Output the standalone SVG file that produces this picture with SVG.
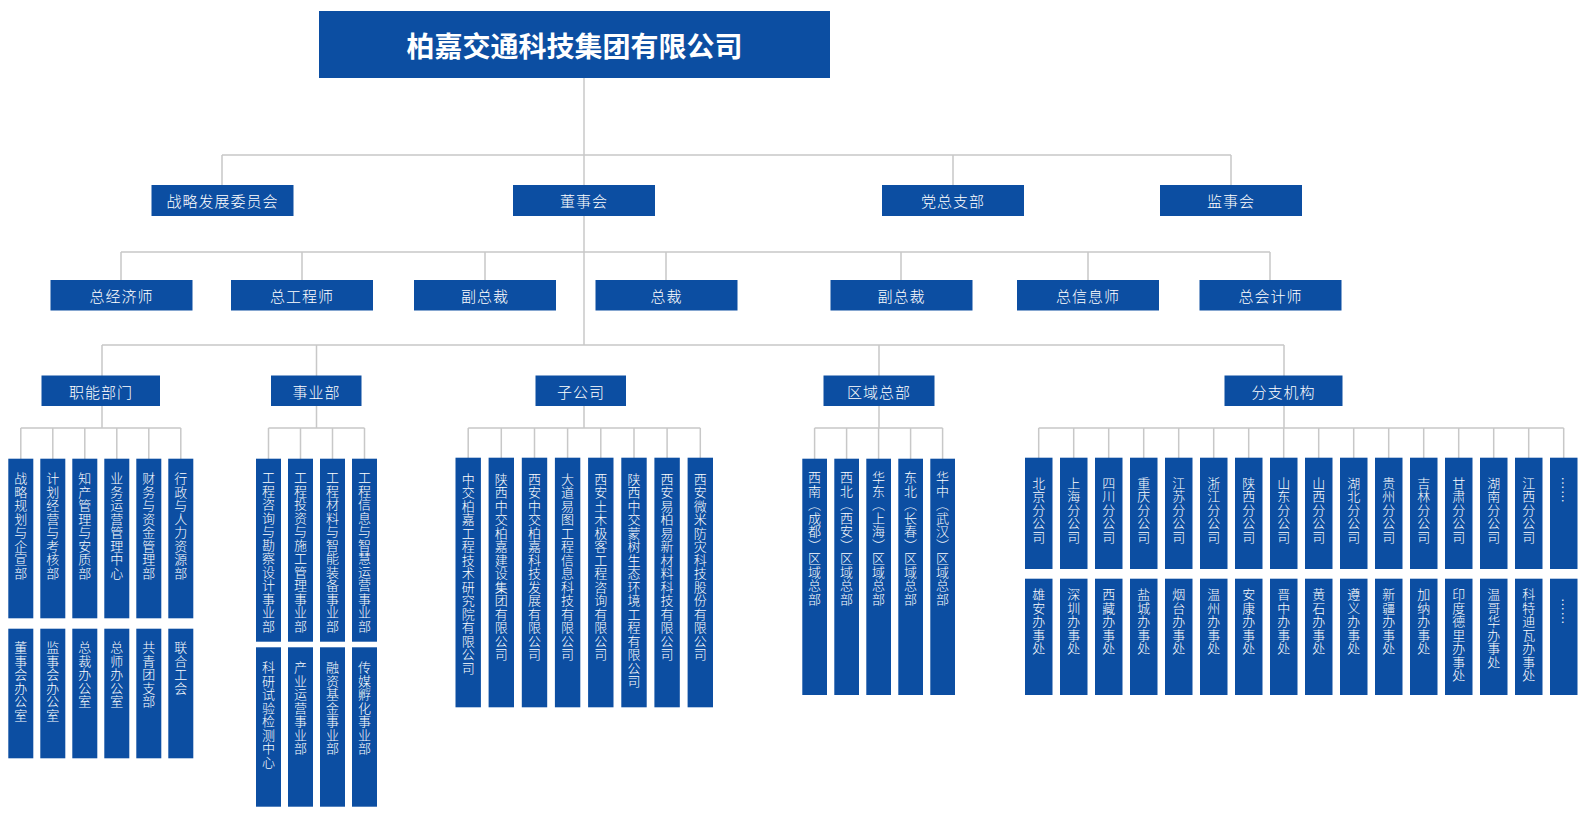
<svg xmlns="http://www.w3.org/2000/svg" width="1587" height="822" viewBox="0 0 1587 822">
<style>
.b{fill:#0c4ea2}
.ln{stroke:#c8c8c8;stroke-width:1.5;fill:none}
text{fill:#fff;font-family:"Noto Sans CJK SC","Noto Sans",sans-serif}
.t{font-size:28px;font-weight:700;text-anchor:middle;dominant-baseline:central}
.m{font-size:15px;letter-spacing:1px;text-anchor:middle;dominant-baseline:central;font-weight:300}
.v{font-size:13px;letter-spacing:0.5px;writing-mode:vertical-rl;font-weight:300}
</style>
<rect width="1587" height="822" fill="#fff"/>
<g id="connectors" class="ln">
<path d="M584 78V345"/>
<path d="M222 155H1231M222 155V185M953 155V185M1231 155V185"/>
<path d="M121 252H1270M121 252V280M302 252V280M485 252V280M666 252V280M901 252V280M1088 252V280M1270 252V280"/>
<path d="M102 345H1284M102 345V376M316.5 345V376M879 345V376M1284 345V376"/>
<path d="M102 406V428M20.8 428H180.8M20.8 428V459M52.8 428V459M84.8 428V459M116.8 428V459M148.8 428V459M180.8 428V459"/>
<path d="M316.5 406V428M268.5 428H364.5M268.5 428V459M300.5 428V459M332.5 428V459M364.5 428V459"/>
<path d="M584 406V428M468.2 428H700.3M468.2 428V458M501.3 428V458M534.5 428V458M567.6 428V458M600.8 428V458M634 428V458M667.1 428V458M700.3 428V458"/>
<path d="M879 406V428M814.6 428H942.6M814.6 428V459M846.6 428V459M878.6 428V459M910.6 428V459M942.6 428V459"/>
<path d="M1284 406V428M1038.7 428H1563.7M1038.7 428V458M1073.7 428V458M1108.7 428V458M1143.7 428V458M1178.7 428V458M1213.7 428V458M1248.7 428V458M1283.7 428V458M1318.7 428V458M1353.7 428V458M1388.7 428V458M1423.7 428V458M1458.7 428V458M1493.7 428V458M1528.7 428V458M1563.7 428V458"/>
</g>
<g id="root"><rect class="b" x="319" y="11" width="511" height="67"/><text class="t" x="574.5" y="45">柏嘉交通科技集团有限公司</text></g>
<g id="l1-zhanlue"><rect class="b" x="151.5" y="185" width="142" height="31"/><text class="m" x="222.5" y="200.5">战略发展委员会</text></g>
<g id="l1-dongshihui"><rect class="b" x="513" y="185" width="142" height="31"/><text class="m" x="584" y="200.5">董事会</text></g>
<g id="l1-dangzongzhibu"><rect class="b" x="882" y="185" width="142" height="31"/><text class="m" x="953" y="200.5">党总支部</text></g>
<g id="l1-jianshihui"><rect class="b" x="1160" y="185" width="142" height="31"/><text class="m" x="1231" y="200.5">监事会</text></g>
<g id="l2-zongjingjishi"><rect class="b" x="50.5" y="280" width="142" height="30.5"/><text class="m" x="121.5" y="295">总经济师</text></g>
<g id="l2-zonggongchengshi"><rect class="b" x="231" y="280" width="142" height="30.5"/><text class="m" x="302" y="295">总工程师</text></g>
<g id="l2-fuzongcai1"><rect class="b" x="414" y="280" width="142" height="30.5"/><text class="m" x="485" y="295">副总裁</text></g>
<g id="l2-zongcai"><rect class="b" x="595.5" y="280" width="142" height="30.5"/><text class="m" x="666.5" y="295">总裁</text></g>
<g id="l2-fuzongcai2"><rect class="b" x="830.5" y="280" width="142" height="30.5"/><text class="m" x="901.5" y="295">副总裁</text></g>
<g id="l2-zongxinxishi"><rect class="b" x="1017" y="280" width="142" height="30.5"/><text class="m" x="1088" y="295">总信息师</text></g>
<g id="l2-zongkuaijishi"><rect class="b" x="1199.5" y="280" width="142" height="30.5"/><text class="m" x="1270.5" y="295">总会计师</text></g>
<g id="l3-zhineng"><rect class="b" x="41.5" y="375.5" width="118.5" height="30.5"/><text class="m" x="101" y="391">职能部门</text></g>
<g id="l3-shiyebu"><rect class="b" x="271" y="375.5" width="90.5" height="30.5"/><text class="m" x="316.5" y="391">事业部</text></g>
<g id="l3-zigongsi"><rect class="b" x="535.5" y="375.5" width="90.5" height="30.5"/><text class="m" x="581" y="391">子公司</text></g>
<g id="l3-quyu"><rect class="b" x="823.5" y="375.5" width="111" height="30.5"/><text class="m" x="879" y="391">区域总部</text></g>
<g id="l3-fenzhi"><rect class="b" x="1224.5" y="375.5" width="118" height="30.5"/><text class="m" x="1283.5" y="391">分支机构</text></g>
<g id="zn-1"><rect class="b" x="8.3" y="458.7" width="25" height="159.6"/><text class="v" x="20.8" y="472">战略规划与企宣部</text></g>
<g id="zn-2"><rect class="b" x="40.3" y="458.7" width="25" height="159.6"/><text class="v" x="52.8" y="472">计划经营与考核部</text></g>
<g id="zn-3"><rect class="b" x="72.3" y="458.7" width="25" height="159.6"/><text class="v" x="84.8" y="472">知产管理与安质部</text></g>
<g id="zn-4"><rect class="b" x="104.3" y="458.7" width="25" height="159.6"/><text class="v" x="116.8" y="472">业务运营管理中心</text></g>
<g id="zn-5"><rect class="b" x="136.3" y="458.7" width="25" height="159.6"/><text class="v" x="148.8" y="472">财务与资金管理部</text></g>
<g id="zn-6"><rect class="b" x="168.3" y="458.7" width="25" height="159.6"/><text class="v" x="180.8" y="472">行政与人力资源部</text></g>
<g id="zn-7"><rect class="b" x="8.3" y="628.7" width="25" height="129.6"/><text class="v" x="20.8" y="641">董事会办公室</text></g>
<g id="zn-8"><rect class="b" x="40.3" y="628.7" width="25" height="129.6"/><text class="v" x="52.8" y="641">监事会办公室</text></g>
<g id="zn-9"><rect class="b" x="72.3" y="628.7" width="25" height="129.6"/><text class="v" x="84.8" y="641">总裁办公室</text></g>
<g id="zn-10"><rect class="b" x="104.3" y="628.7" width="25" height="129.6"/><text class="v" x="116.8" y="641">总师办公室</text></g>
<g id="zn-11"><rect class="b" x="136.3" y="628.7" width="25" height="129.6"/><text class="v" x="148.8" y="641">共青团支部</text></g>
<g id="zn-12"><rect class="b" x="168.3" y="628.7" width="25" height="129.6"/><text class="v" x="180.8" y="641">联合工会</text></g>
<g id="sy-1"><rect class="b" x="256" y="458.7" width="25" height="183"/><text class="v" x="268.5" y="471">工程咨询与勘察设计事业部</text></g>
<g id="sy-2"><rect class="b" x="288" y="458.7" width="25" height="183"/><text class="v" x="300.5" y="471">工程投资与施工管理事业部</text></g>
<g id="sy-3"><rect class="b" x="320" y="458.7" width="25" height="183"/><text class="v" x="332.5" y="471">工程材料与智能装备事业部</text></g>
<g id="sy-4"><rect class="b" x="352" y="458.7" width="25" height="183"/><text class="v" x="364.5" y="471">工程信息与智慧运营事业部</text></g>
<g id="sy-5"><rect class="b" x="256" y="647.3" width="25" height="159.4"/><text class="v" x="268.5" y="661">科研试验检测中心</text></g>
<g id="sy-6"><rect class="b" x="288" y="647.3" width="25" height="159.4"/><text class="v" x="300.5" y="661">产业运营事业部</text></g>
<g id="sy-7"><rect class="b" x="320" y="647.3" width="25" height="159.4"/><text class="v" x="332.5" y="661">融资基金事业部</text></g>
<g id="sy-8"><rect class="b" x="352" y="647.3" width="25" height="159.4"/><text class="v" x="364.5" y="661">传媒孵化事业部</text></g>
<g id="zg-1"><rect class="b" x="455.5" y="457.7" width="25.4" height="249.6"/><text class="v" x="468.2" y="472.5">中交柏嘉工程技术研究院有限公司</text></g>
<g id="zg-2"><rect class="b" x="488.6" y="457.7" width="25.4" height="249.6"/><text class="v" x="501.3" y="472.5">陕西中交柏嘉建设集团有限公司</text></g>
<g id="zg-3"><rect class="b" x="521.8" y="457.7" width="25.4" height="249.6"/><text class="v" x="534.5" y="472.5">西安中交柏嘉科技发展有限公司</text></g>
<g id="zg-4"><rect class="b" x="554.9" y="457.7" width="25.4" height="249.6"/><text class="v" x="567.6" y="472.5">大道易图工程信息科技有限公司</text></g>
<g id="zg-5"><rect class="b" x="588.1" y="457.7" width="25.4" height="249.6"/><text class="v" x="600.8" y="472.5">西安土木极客工程咨询有限公司</text></g>
<g id="zg-6"><rect class="b" x="621.3" y="457.7" width="25.4" height="249.6"/><text class="v" x="634" y="472.5">陕西中交蒙树生态环境工程有限公司</text></g>
<g id="zg-7"><rect class="b" x="654.4" y="457.7" width="25.4" height="249.6"/><text class="v" x="667.1" y="472.5">西安易柏易新材料科技有限公司</text></g>
<g id="zg-8"><rect class="b" x="687.6" y="457.7" width="25.4" height="249.6"/><text class="v" x="700.3" y="472.5">西安微米防灾科技股份有限公司</text></g>
<g id="qy-1"><rect class="b" x="802.3" y="458.7" width="24.7" height="236.3"/><text class="v" x="814.6" y="471">西南（成都）区域总部</text></g>
<g id="qy-2"><rect class="b" x="834.3" y="458.7" width="24.7" height="236.3"/><text class="v" x="846.6" y="471">西北（西安）区域总部</text></g>
<g id="qy-3"><rect class="b" x="866.3" y="458.7" width="24.7" height="236.3"/><text class="v" x="878.6" y="471">华东（上海）区域总部</text></g>
<g id="qy-4"><rect class="b" x="898.3" y="458.7" width="24.7" height="236.3"/><text class="v" x="910.6" y="471">东北（长春）区域总部</text></g>
<g id="qy-5"><rect class="b" x="930.3" y="458.7" width="24.7" height="236.3"/><text class="v" x="942.6" y="471">华中（武汉）区域总部</text></g>
<g id="fz-1"><rect class="b" x="1025" y="457.7" width="27.5" height="111.3"/><text class="v" x="1038.7" y="476.5">北京分公司</text></g>
<g id="fz-2"><rect class="b" x="1060" y="457.7" width="27.5" height="111.3"/><text class="v" x="1073.7" y="476.5">上海分公司</text></g>
<g id="fz-3"><rect class="b" x="1095" y="457.7" width="27.5" height="111.3"/><text class="v" x="1108.7" y="476.5">四川分公司</text></g>
<g id="fz-4"><rect class="b" x="1130" y="457.7" width="27.5" height="111.3"/><text class="v" x="1143.7" y="476.5">重庆分公司</text></g>
<g id="fz-5"><rect class="b" x="1165" y="457.7" width="27.5" height="111.3"/><text class="v" x="1178.7" y="476.5">江苏分公司</text></g>
<g id="fz-6"><rect class="b" x="1200" y="457.7" width="27.5" height="111.3"/><text class="v" x="1213.7" y="476.5">浙江分公司</text></g>
<g id="fz-7"><rect class="b" x="1235" y="457.7" width="27.5" height="111.3"/><text class="v" x="1248.7" y="476.5">陕西分公司</text></g>
<g id="fz-8"><rect class="b" x="1270" y="457.7" width="27.5" height="111.3"/><text class="v" x="1283.7" y="476.5">山东分公司</text></g>
<g id="fz-9"><rect class="b" x="1305" y="457.7" width="27.5" height="111.3"/><text class="v" x="1318.7" y="476.5">山西分公司</text></g>
<g id="fz-10"><rect class="b" x="1340" y="457.7" width="27.5" height="111.3"/><text class="v" x="1353.7" y="476.5">湖北分公司</text></g>
<g id="fz-11"><rect class="b" x="1375" y="457.7" width="27.5" height="111.3"/><text class="v" x="1388.7" y="476.5">贵州分公司</text></g>
<g id="fz-12"><rect class="b" x="1410" y="457.7" width="27.5" height="111.3"/><text class="v" x="1423.7" y="476.5">吉林分公司</text></g>
<g id="fz-13"><rect class="b" x="1445" y="457.7" width="27.5" height="111.3"/><text class="v" x="1458.7" y="476.5">甘肃分公司</text></g>
<g id="fz-14"><rect class="b" x="1480" y="457.7" width="27.5" height="111.3"/><text class="v" x="1493.7" y="476.5">湖南分公司</text></g>
<g id="fz-15"><rect class="b" x="1515" y="457.7" width="27.5" height="111.3"/><text class="v" x="1528.7" y="476.5">江西分公司</text></g>
<g id="fz-16"><rect class="b" x="1550" y="457.7" width="27.5" height="111.3"/><text class="v" x="1563.7" y="476.5">……</text></g>
<g id="bs-1"><rect class="b" x="1025" y="578.7" width="27.5" height="116.3"/><text class="v" x="1038.7" y="588">雄安办事处</text></g>
<g id="bs-2"><rect class="b" x="1060" y="578.7" width="27.5" height="116.3"/><text class="v" x="1073.7" y="588">深圳办事处</text></g>
<g id="bs-3"><rect class="b" x="1095" y="578.7" width="27.5" height="116.3"/><text class="v" x="1108.7" y="588">西藏办事处</text></g>
<g id="bs-4"><rect class="b" x="1130" y="578.7" width="27.5" height="116.3"/><text class="v" x="1143.7" y="588">盐城办事处</text></g>
<g id="bs-5"><rect class="b" x="1165" y="578.7" width="27.5" height="116.3"/><text class="v" x="1178.7" y="588">烟台办事处</text></g>
<g id="bs-6"><rect class="b" x="1200" y="578.7" width="27.5" height="116.3"/><text class="v" x="1213.7" y="588">温州办事处</text></g>
<g id="bs-7"><rect class="b" x="1235" y="578.7" width="27.5" height="116.3"/><text class="v" x="1248.7" y="588">安康办事处</text></g>
<g id="bs-8"><rect class="b" x="1270" y="578.7" width="27.5" height="116.3"/><text class="v" x="1283.7" y="588">晋中办事处</text></g>
<g id="bs-9"><rect class="b" x="1305" y="578.7" width="27.5" height="116.3"/><text class="v" x="1318.7" y="588">黄石办事处</text></g>
<g id="bs-10"><rect class="b" x="1340" y="578.7" width="27.5" height="116.3"/><text class="v" x="1353.7" y="588">遵义办事处</text></g>
<g id="bs-11"><rect class="b" x="1375" y="578.7" width="27.5" height="116.3"/><text class="v" x="1388.7" y="588">新疆办事处</text></g>
<g id="bs-12"><rect class="b" x="1410" y="578.7" width="27.5" height="116.3"/><text class="v" x="1423.7" y="588">加纳办事处</text></g>
<g id="bs-13"><rect class="b" x="1445" y="578.7" width="27.5" height="116.3"/><text class="v" x="1458.7" y="588">印度德里办事处</text></g>
<g id="bs-14"><rect class="b" x="1480" y="578.7" width="27.5" height="116.3"/><text class="v" x="1493.7" y="588">温哥华办事处</text></g>
<g id="bs-15"><rect class="b" x="1515" y="578.7" width="27.5" height="116.3"/><text class="v" x="1528.7" y="588">科特迪瓦办事处</text></g>
<g id="bs-16"><rect class="b" x="1550" y="578.7" width="27.5" height="116.3"/><text class="v" x="1563.7" y="598">……</text></g>
</svg>
